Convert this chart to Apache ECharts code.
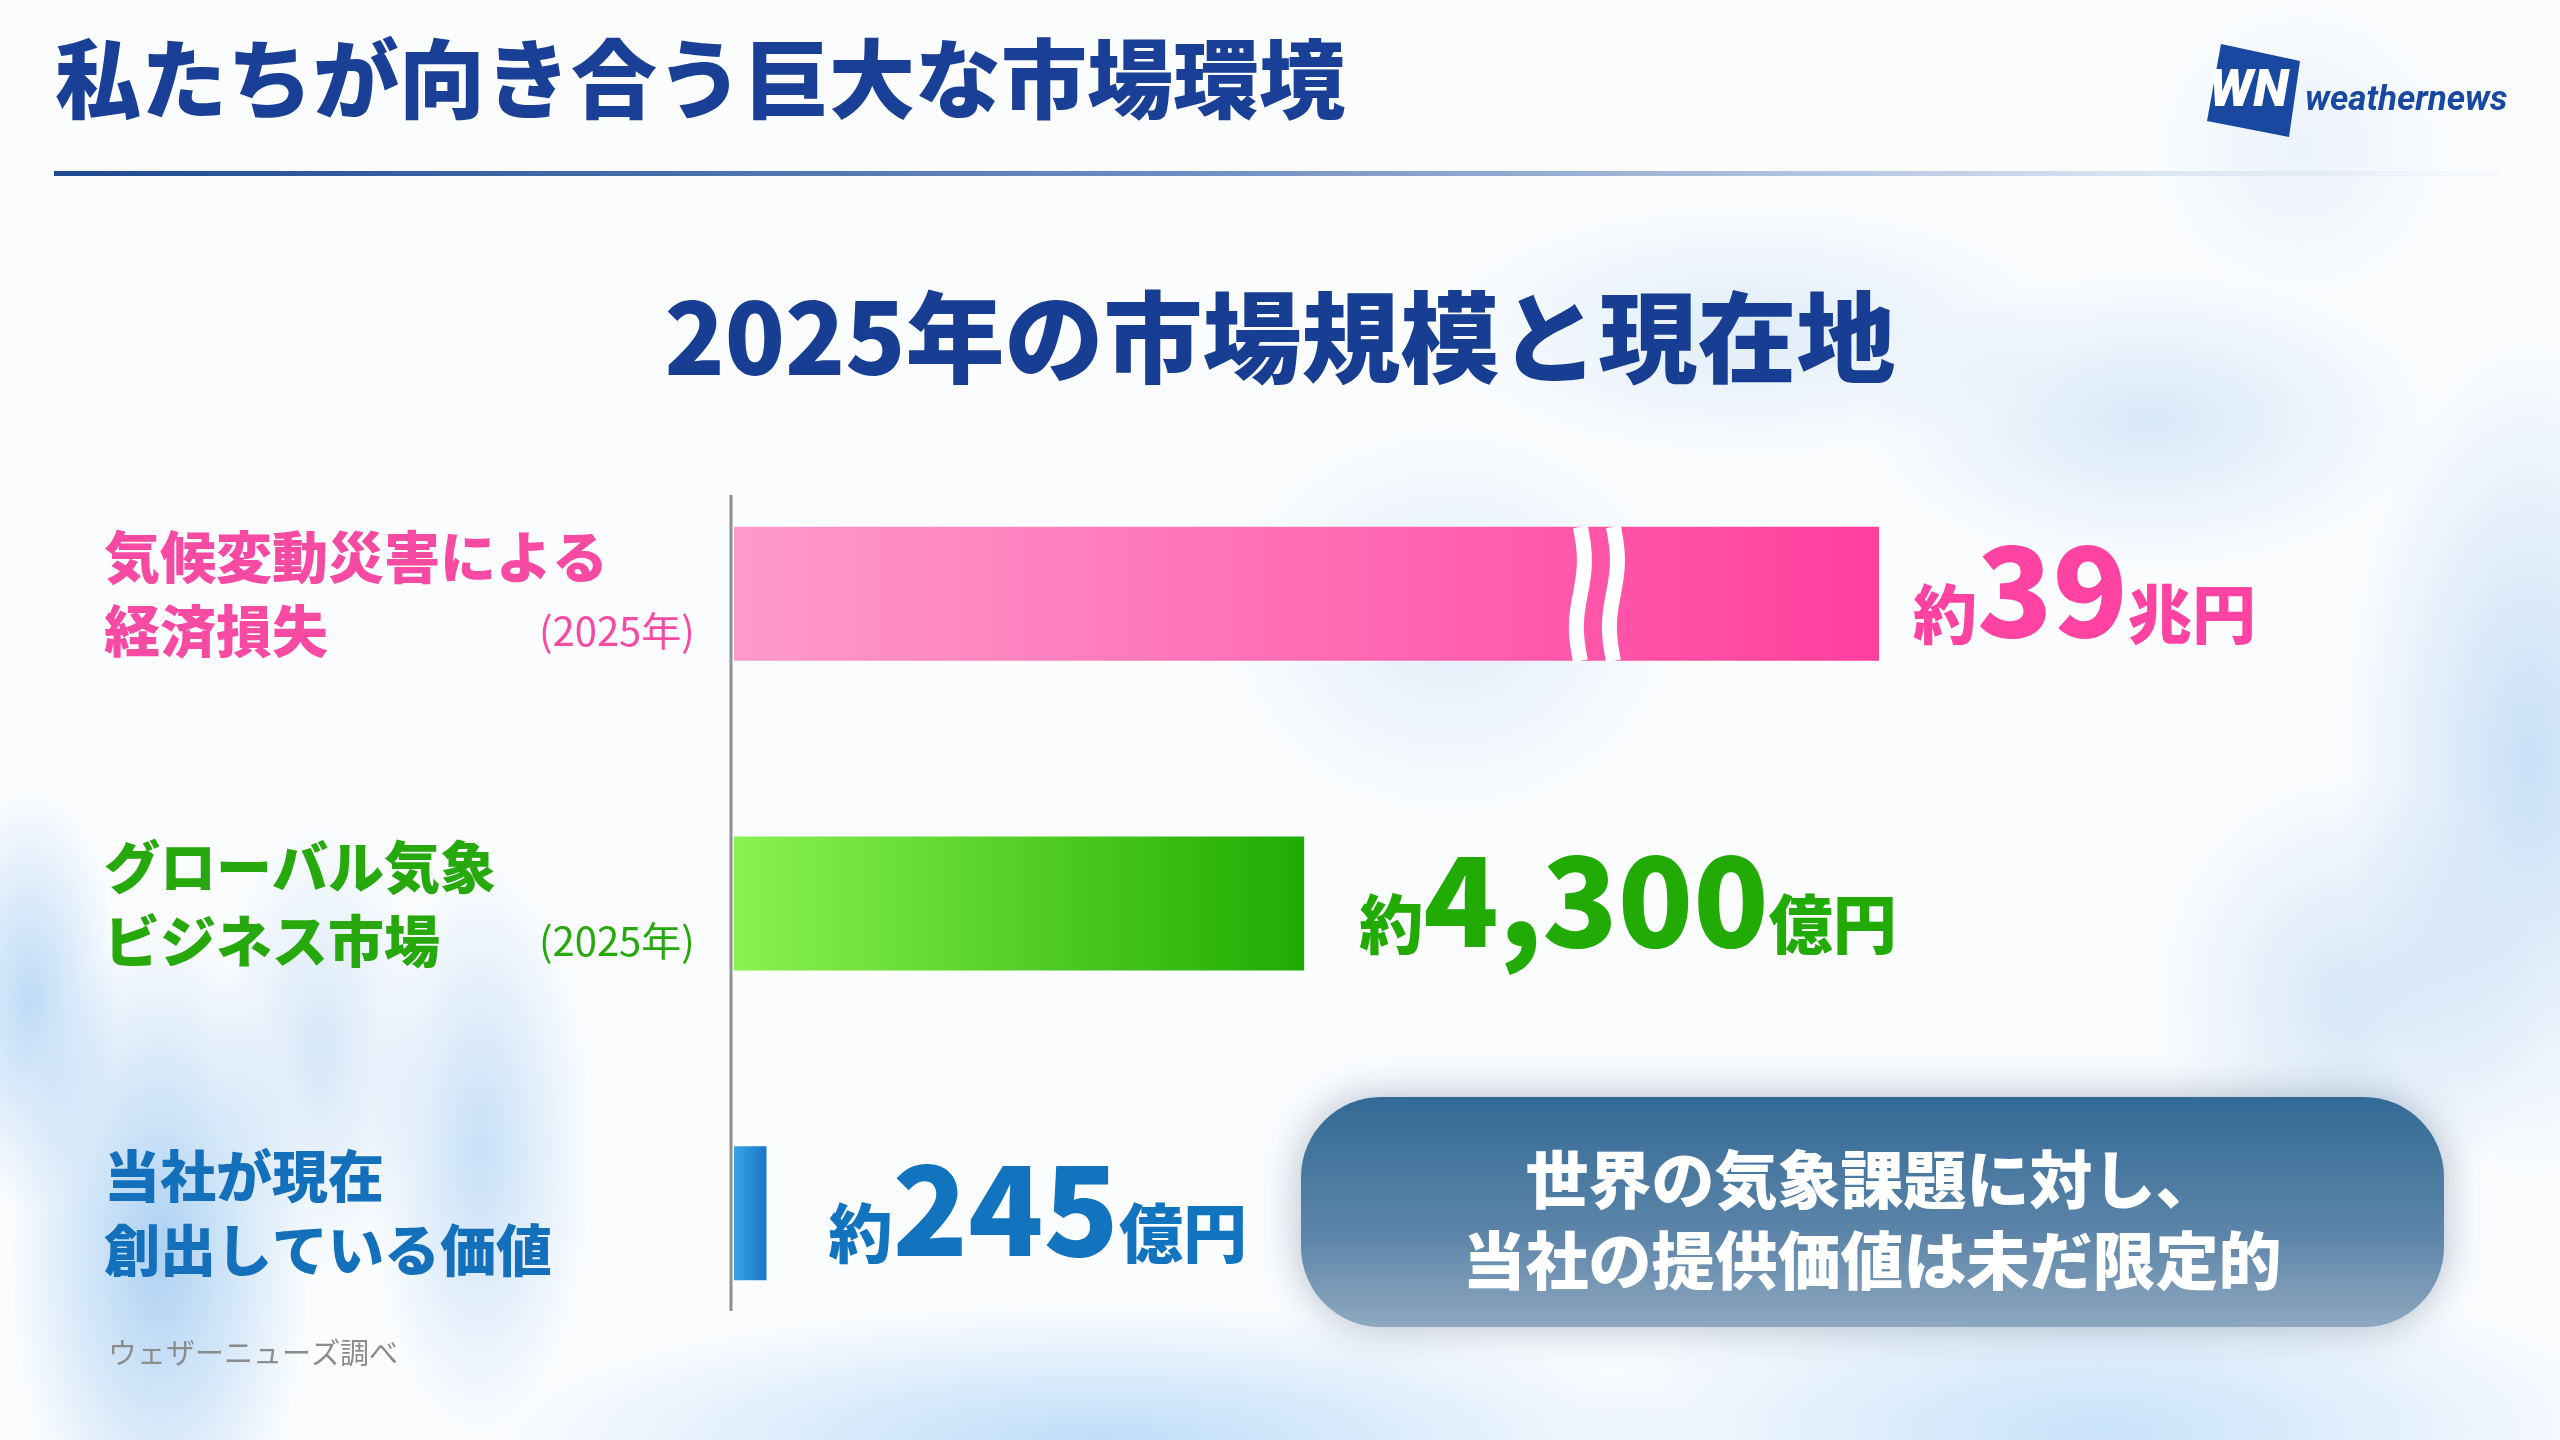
<!DOCTYPE html>
<html>
<head>
<meta charset="utf-8">
<script src="https://cdn.jsdelivr.net/npm/echarts@6/dist/echarts.min.js"></script>
<style>
html,body{margin:0;padding:0;width:2560px;height:1440px;overflow:hidden;}
body{
  background-color:#fafcfe;
  background-image:
    radial-gradient(ellipse 200px 430px at 160px 1250px, rgba(120,180,235,0.60), rgba(120,180,235,0) 75%),
    radial-gradient(ellipse 150px 380px at 480px 1150px, rgba(150,195,240,0.50), rgba(150,195,240,0) 75%),
    radial-gradient(ellipse 120px 280px at 30px 1000px, rgba(140,190,240,0.55), rgba(140,190,240,0) 75%),
    radial-gradient(ellipse 140px 300px at 320px 1050px, rgba(160,200,240,0.40), rgba(160,200,240,0) 75%),
    radial-gradient(ellipse 800px 180px at 1100px 1440px, rgba(150,200,245,0.60), rgba(150,200,245,0) 75%),
    radial-gradient(ellipse 700px 220px at 2100px 1430px, rgba(150,200,245,0.50), rgba(150,200,245,0) 75%),
    radial-gradient(ellipse 250px 560px at 2530px 760px, rgba(160,200,240,0.55), rgba(160,200,240,0) 75%),
    radial-gradient(ellipse 380px 200px at 2150px 420px, rgba(175,210,242,0.45), rgba(175,210,242,0) 75%),
    radial-gradient(ellipse 420px 170px at 1750px 330px, rgba(185,213,240,0.40), rgba(185,213,240,0) 75%),
    radial-gradient(ellipse 300px 260px at 1450px 620px, rgba(185,215,242,0.40), rgba(185,215,242,0) 75%),
    radial-gradient(ellipse 260px 300px at 2350px 1000px, rgba(170,205,240,0.45), rgba(170,205,240,0) 75%),
    radial-gradient(ellipse 200px 200px at 2300px 150px, rgba(200,220,240,0.30), rgba(200,220,240,0) 75%);
}
#c{width:2560px;height:1440px;}
</style>
</head>
<body>
<div id="c"></div>
<script>
// ---------------- data ----------------
const categoryLines = [
  ['気候変動災害による', '経済損失'],
  ['グローバル気象', 'ビジネス市場'],
  ['当社が現在', '創出している価値']
];
const periodNotes = ['(2025年)', '(2025年)', ''];
const valuesOku = [390000, 4300, 245];          // 億円  (39兆円 = 390,000億円)
const approxPrefix = '約';
const breakStart = 6300;
const breakEnd = 388080;
const breakGap = 415;
const titleText = '私たちが向き合う巨大な市場環境';
const subtitleText = '2025年の市場規模と現在地';
const calloutLines = ['世界の気象課題に対し、', '当社の提供価値は未だ限定的'];
const sourceNote = 'ウェザーニューズ調べ';
const brandName = 'weathernews';

// ---------------- styles ----------------
const F = "'Noto Sans CJK JP','Noto Sans',sans-serif";
const palette = [
  { text: '#f64aa3', label: '#ff43a2', bar: ['#ff9acb', '#ff3f9e'], dist: 34 },
  { text: '#27a80c', label: '#22aa05', bar: ['#8af24f', '#1fac02'], dist: 55 },
  { text: '#1570bb', label: '#1273be', bar: ['#3aa2e6', '#1677c6'], dist: 62 }
];

function splitValue(v) {
  if (v >= 10000) return { num: String(v / 10000), unit: '兆円' };
  return { num: v.toLocaleString('en-US'), unit: '億円' };
}
function valueRich(c) {
  return {
    p: { fontFamily: F, fontSize: 64, fontWeight: 900, color: c, lineHeight: 64, verticalAlign: 'bottom', padding: [0, 0, 6, 0] },
    v: { fontFamily: F, fontSize: 124, fontWeight: 900, color: c, lineHeight: 124 },
    u: { fontFamily: F, fontSize: 64, fontWeight: 900, color: c, lineHeight: 64, verticalAlign: 'bottom', padding: [0, 0, 6, 0] }
  };
}

const axisRich = {};
palette.forEach((p, i) => {
  axisRich['a' + i] = { fontFamily: F, fontSize: 56, fontWeight: 900, color: p.text, lineHeight: 74 };
  axisRich['b' + i] = { fontFamily: F, fontSize: 56, fontWeight: 900, color: p.text, lineHeight: 74, width: 435 };
  axisRich['y' + i] = { fontFamily: F, fontSize: 40, fontWeight: 400, color: p.text, lineHeight: 74 };
});

const chart = echarts.init(document.getElementById('c'), null, { renderer: 'canvas' });
const G = echarts.graphic;

const option = {
  animation: false,
  backgroundColor: 'transparent',
  title: [
    { text: titleText, left: 55, top: 36, padding: 0,
      textStyle: { fontFamily: F, fontSize: 86, fontWeight: 900, color: '#1a3f96' } },
    { text: subtitleText, left: 'center', top: 288, padding: 0,
      textStyle: { fontFamily: F, fontSize: 99, fontWeight: 900, color: '#173e93' } }
  ],
  grid: { left: 734, right: 681, top: 439, bottom: 72, containLabel: false, outerBoundsMode: 'none' },
  xAxis: {
    type: 'value', min: 0, max: valuesOku[0],
    breaks: [{ start: breakStart, end: breakEnd, gap: breakGap }],
    breakArea: { show: false },
    axisLine: { show: false }, axisTick: { show: false },
    axisLabel: { show: false }, splitLine: { show: false }
  },
  yAxis: {
    type: 'category', inverse: true,
    data: categoryLines.map(l => l.join('')),
    axisLine: { show: false }, axisTick: { show: false }, splitLine: { show: false },
    axisLabel: {
      interval: 0, align: 'left', margin: 630,
      formatter: (val, idx) => `{a${idx}|${categoryLines[idx][0]}}\n{b${idx}|${categoryLines[idx][1]}}` +
        (periodNotes[idx] ? `{y${idx}|${periodNotes[idx]}}` : ''),
      rich: axisRich
    }
  },
  series: [
    {
      type: 'bar', barWidth: 134, z: 2, silent: true,
      data: valuesOku.map((v, i) => ({
        value: v,
        itemStyle: {
          color: new G.LinearGradient(0, 0, 1, 0, [
            { offset: 0, color: palette[i].bar[0] },
            { offset: 1, color: palette[i].bar[1] }
          ])
        },
        label: {
          show: true, position: 'right', distance: palette[i].dist, offset: [0, -4],
          formatter: () => { const s = splitValue(v); return `{p|${approxPrefix}}{v|${s.num}}{u|${s.unit}}`; },
          rich: valueRich(palette[i].label)
        }
      }))
    },
    {
      type: 'custom', coordinateSystem: 'cartesian2d', z: 4, silent: true, clip: false,
      encode: { x: [0, 1], y: 2 },
      data: [[breakStart, breakEnd, 0]],
      renderItem: (params, api) => {
        const a = api.coord([api.value(0), api.value(2)]);
        const b = api.coord([api.value(1), api.value(2)]);
        const h = 134, top = a[1] - h / 2;
        const mk = (cx) => {
          const pts = [];
          for (let k = 0; k <= 40; k++) {
            const t = k / 40;
            pts.push([cx + 4 * Math.sin(2 * Math.PI * t), top + h * t]);
          }
          return { type: 'polyline', shape: { points: pts, smooth: 0.3 },
                   style: { stroke: '#ffffff', lineWidth: 15, fill: null, lineCap: 'butt' } };
        };
        return { type: 'group', children: [mk(a[0] + 11), mk(b[0] - 11)] };
      }
    }
  ],
  graphic: [
    { type: 'rect', shape: { x: 54, y: 171, width: 2446, height: 5 },
      style: { fill: new G.LinearGradient(0, 0, 1, 0, [
        { offset: 0, color: '#1d4a90' }, { offset: 0.45, color: '#6b8cc0' },
        { offset: 0.8, color: '#c9d6ea' }, { offset: 1, color: 'rgba(230,236,246,0.2)' }]) } },
    { type: 'line', shape: { x1: 731, y1: 495, x2: 731, y2: 1311 },
      style: { stroke: '#8f8f8f', lineWidth: 3 } },
    { type: 'polygon', shape: { points: [[2221, 44], [2300, 61], [2289, 137], [2207, 121]] },
      style: { fill: '#1848a0' } },
    { type: 'text', x: 2249, y: 93,
      style: { text: 'WN', fill: '#ffffff', font: 'italic 900 52px Roboto', align: 'center', verticalAlign: 'middle' } },
    { type: 'text', x: 2305, y: 101,
      style: { text: brandName, fill: '#1848a0', font: 'italic bold 35px Roboto', verticalAlign: 'middle' } },
    { type: 'rect', z: 10, shape: { x: 1301, y: 1097, width: 1143, height: 230, r: 80 },
      style: {
        fill: new G.LinearGradient(0, 0, 0, 1, [
          { offset: 0, color: '#336a96' },
          { offset: 0.6, color: '#5d85a9' },
          { offset: 1, color: '#8ea8c0' }]),
        shadowBlur: 40, shadowColor: 'rgba(40,70,100,0.35)'
      } },
    { type: 'text', z: 11, x: 1872, y: 1220,
      style: { text: calloutLines.join('\n'), fill: '#ffffff', fontFamily: F, fontSize: 63, fontWeight: 900,
               lineHeight: 81, align: 'center', verticalAlign: 'middle' } },
    { type: 'text', x: 108, y: 1353,
      style: { text: sourceNote, fill: '#8c8c8c', fontFamily: F, fontSize: 29, verticalAlign: 'middle' } }
  ]
};
chart.setOption(option);
</script>
</body>
</html>
